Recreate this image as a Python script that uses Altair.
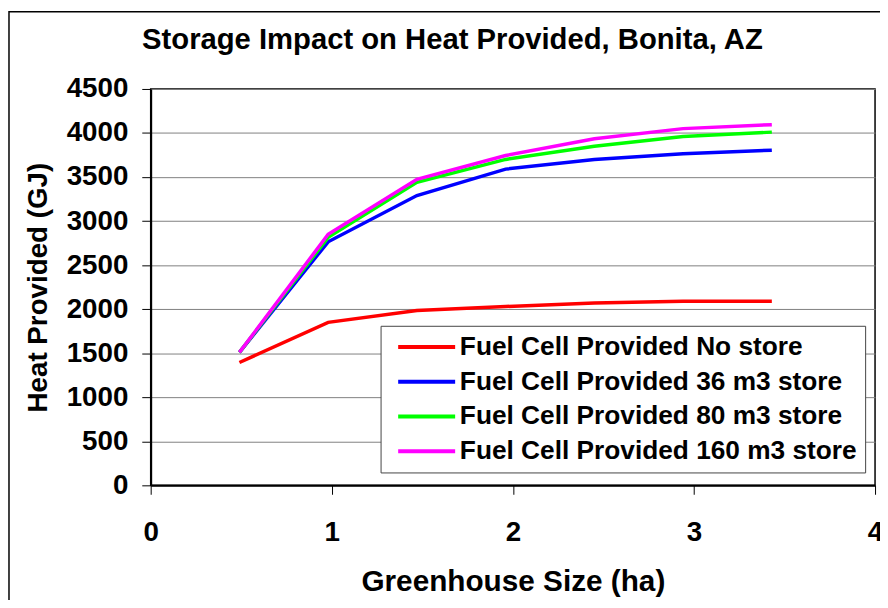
import altair as alt
import pandas as pd

sizes = [0.49, 0.98, 1.47, 1.96, 2.45, 2.94, 3.43]
series_names = [
    "Fuel Cell Provided No store",
    "Fuel Cell Provided 36 m3 store",
    "Fuel Cell Provided 80 m3 store",
    "Fuel Cell Provided 160 m3 store",
]
no_store = [1395, 1850, 1985, 2030, 2070, 2090, 2090]
store_36 = [1510, 2765, 3290, 3590, 3700, 3765, 3805]
store_80 = [1510, 2815, 3440, 3700, 3850, 3960, 4010]
store_160 = [1510, 2850, 3475, 3745, 3935, 4050, 4095]
colors = ["#FF0000", "#0000FF", "#00FF00", "#FF00FF"]

rows = []
for name, vals in zip(series_names, [no_store, store_36, store_80, store_160]):
    for s, v in zip(sizes, vals):
        rows.append({"size": s, "heat": v, "series": name})
df = pd.DataFrame(rows)

FONT = "Liberation Sans"

frame = alt.Chart(pd.DataFrame({"a": [0]})).mark_rect(
    filled=False, stroke="black", strokeWidth=1.5
).encode(
    x=alt.value(-143), x2=alt.value(900), y=alt.value(-78), y2=alt.value(700)
)

lines = alt.Chart(df).mark_line(strokeWidth=3.5).encode(
    x=alt.X("size:Q", scale=alt.Scale(domain=[0, 4], nice=False),
            axis=alt.Axis(values=[0, 1, 2, 3, 4], format="d", grid=False,
                          title="Greenhouse Size (ha)", tickSize=9,
                          labelFlush=False, labelOverlap=False,
                          labelPadding=25, titlePadding=20, titleFontSize=30)),
    y=alt.Y("heat:Q", scale=alt.Scale(domain=[0, 4500], nice=False),
            axis=alt.Axis(values=list(range(0, 4501, 500)), format="d",
                          grid=True, title="Heat Provided (GJ)", tickSize=9,
                          labelFlush=False, labelOverlap=False,
                          labelPadding=14, titlePadding=14)),
    color=alt.Color("series:N",
                    scale=alt.Scale(domain=series_names, range=colors),
                    sort=series_names,
                    legend=alt.Legend(title=None, orient="none",
                                      legendX=232, legendY=239,
                                      symbolType="M-2.5,0H2.5",
                                      symbolSize=529, symbolStrokeWidth=4,
                                      symbolOffset=25, labelOffset=20,
                                      labelFontSize=26.5, labelFont=FONT,
                                      labelFontWeight="bold", labelColor="black",
                                      labelLimit=600, rowPadding=8,
                                      padding=8, strokeColor="#444444",
                                      fillColor="white")),
    order=alt.Order("series_order:Q"),
).transform_calculate(
    series_order="indexof(" + str(series_names) + ", datum.series)"
)

chart = alt.layer(frame, lines).properties(
    width=731, height=400,
    title=alt.TitleParams("Storage Impact on Heat Provided, Bonita, AZ",
                          fontSize=29.5, font=FONT, fontWeight="bold",
                          color="black", dx=-61, offset=-45),
    autosize=alt.AutoSizeParams(type="none"),
    padding={"left": 144, "top": 79, "right": 5, "bottom": 113},
).configure_axis(
    labelFont=FONT, labelFontSize=28, labelFontWeight="bold", labelColor="black",
    titleFont=FONT, titleFontSize=28, titleFontWeight="bold", titleColor="black",
    domainColor="black", domainWidth=2, tickColor="black", tickWidth=1,
    gridColor="#808080", gridWidth=1,
).configure_view(stroke="black", strokeWidth=1.5)

chart.save("out.html", embed_options={"renderer": "svg", "actions": False})
